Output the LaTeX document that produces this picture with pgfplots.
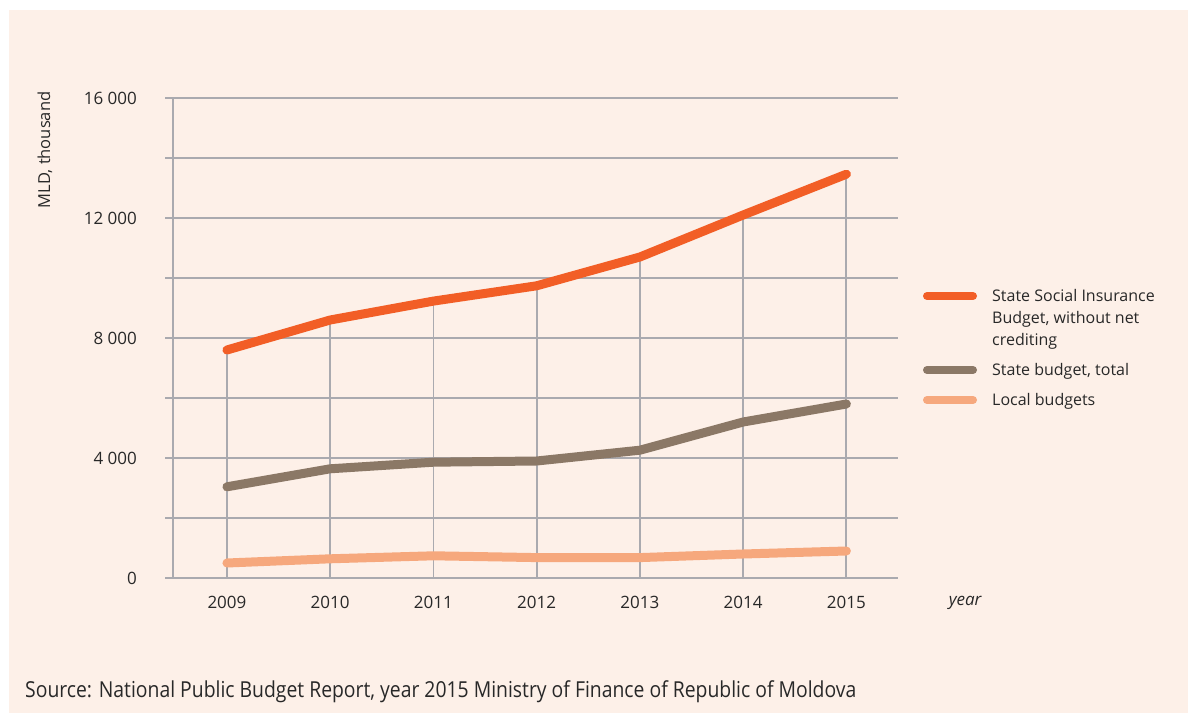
\documentclass[border=0pt]{standalone}
\usepackage{pgfplots}
\pgfplotsset{compat=1.18}
\usepackage{fontspec}
\setmainfont{Open Sans}
\newfontfamily\srcfont[FakeStretch=0.88]{Open Sans}
\definecolor{bgpeach}{RGB}{253,240,232}
\definecolor{cOrange}{RGB}{242,94,38}
\definecolor{cTaupe}{RGB}{139,120,102}
\definecolor{cLight}{RGB}{246,168,125}
\definecolor{gridgray}{RGB}{170,170,175}
\definecolor{txt}{RGB}{40,40,40}
\begin{document}
\begin{tikzpicture}[x=1pt,y=1pt]
\fill[white] (0,0) rectangle (1189,713);
\fill[bgpeach] (9,0) rectangle (1188,703);
\begin{axis}[
  scale only axis, width=733pt, height=480pt,
  at={(165pt,135pt)}, anchor=south west,
  xmin=2008.40, xmax=2015.50, ymin=0, ymax=16000,
  clip=false, scaled y ticks=false,
  axis line style={draw=none}, tick style={draw=none},
  ymajorgrids, grid style={color=gridgray, line width=1.8pt},
  xtick={2009,2010,2011,2012,2013,2014,2015},
  xticklabels={2009,2010,2011,2012,2013,2014,2015},
  ytick={0,2000,4000,6000,8000,10000,12000,14000,16000},
  yticklabels={0,,4~000,,8~000,,12~000,,16~000},
  tick label style={font=\fontsize{17}{19}\selectfont, text=txt, inner sep=0pt},
  yticklabel style={anchor=east, xshift=-28pt},
  xticklabel style={anchor=north, yshift=-18pt},
]
\addplot[ycomb, gridgray, line width=1.8pt, forget plot] coordinates {
(2009,7600) (2010,8600) (2011,9230) (2012,9740) (2013,10700) (2014,12100) (2015,13460)};
\draw[gridgray, line width=1.8pt] (axis cs:2008.4775,0) -- (axis cs:2008.4775,16000);
\addplot[cLight, line width=9pt, line cap=round, line join=round, forget plot] coordinates {
(2009,500) (2010,640) (2011,740) (2012,680) (2013,680) (2014,800) (2015,900)};
\addplot[cTaupe, line width=9pt, line cap=round, line join=round, forget plot] coordinates {
(2009,3040) (2010,3640) (2011,3860) (2012,3900) (2013,4260) (2014,5200) (2015,5800)};
\addplot[cOrange, line width=9pt, line cap=round, line join=round, forget plot] coordinates {
(2009,7600) (2010,8600) (2011,9230) (2012,9740) (2013,10700) (2014,12100) (2015,13460)};
\node[anchor=north, inner sep=0pt, text=txt, font=\fontsize{17}{19}\selectfont\itshape, yshift=-18pt] at (axis cs:2016.15,0) {year};
\node[rotate=90, anchor=center, inner sep=0pt, text=txt, font=\fontsize{16.5}{19}\selectfont] at (axis cs:2007.236,14270) {MLD, thousand};
\end{axis}
% legend
\draw[cOrange, line width=8pt, line cap=round] (927,417) -- (973,417);
\draw[cTaupe, line width=8pt, line cap=round] (927,343) -- (973,343);
\draw[cLight, line width=8pt, line cap=round] (927,313) -- (973,313);
\begin{scope}[every node/.style={anchor=base west, inner sep=0pt, text=txt, font=\fontsize{16}{18}\selectfont}]
\node at (992,411) {State Social Insurance};
\node at (992,389) {Budget, without net};
\node at (992,367) {crediting};
\node at (992,337) {State budget, total};
\node at (992,307) {Local budgets};
\end{scope}
\node[anchor=base west, inner sep=0pt, text=txt, font=\srcfont\fontsize{22}{24}\selectfont] at (25,16) {Source: National Public Budget Report, year 2015 Ministry of Finance of Republic of Moldova};
\end{tikzpicture}
\end{document}
